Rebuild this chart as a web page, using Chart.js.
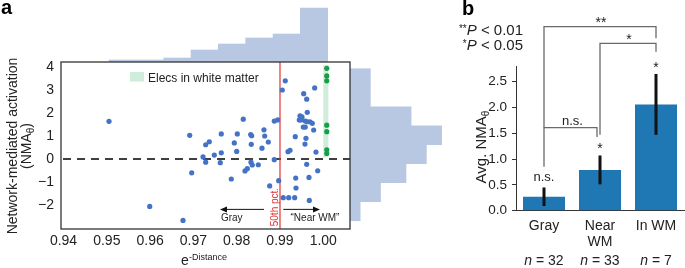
<!DOCTYPE html>
<html>
<head>
<meta charset="utf-8">
<script src="https://cdn.jsdelivr.net/npm/chart.js@4.4.1/dist/chart.umd.min.js"></script>
<style>
    html, body { margin: 0; padding: 0; background: #fff; }
    #wrap { position: relative; width: 685px; height: 268px; overflow: hidden; }
    #wrap canvas { position: absolute; left: 0; top: 0; }
</style>
</head>
<body>
<div id="wrap">
    <canvas id="histTop" width="685" height="268"></canvas>
    <canvas id="histRight" width="685" height="268"></canvas>
    <canvas id="scatter" width="685" height="268"></canvas>
    <canvas id="bars" width="685" height="268"></canvas>
</div>
<script>
// ---------- panel a : NMA vs e^-distance ----------
const grayDist = [0.95051, 0.95991, 0.96760, 0.96915, 0.96961, 0.97222, 0.97284, 0.97284, 0.97367, 0.97483,
    0.97644, 0.97644, 0.97621, 0.97875, 0.97945, 0.98000, 0.98014, 0.98152, 0.98192, 0.98245,
    0.98323, 0.98346, 0.98337, 0.98330, 0.98360, 0.98499, 0.98584, 0.98630, 0.98647, 0.98730,
    0.98762, 0.98868, 0.98947, 0.98868, 0.98970];
const grayNMA = [1.64, -2.06, -2.67, 1.03, -0.60, 0.09, -0.14, 0.62, 0.75, 0.17,
    1.09, 0.27, -0.16, -0.87, 0.70, 0.33, 1.09, 1.73, -0.52, -0.42,
    1.06, 1.01, 0.64, -0.14, -0.26, -0.25, 0.47, 1.27, 1.00, 0.74,
    -1.17, 1.65, 1.70, -0.03, -0.94];

const nearDist = [0.99053, 0.99122, 0.99076, 0.99201, 0.99339, 0.99185, 0.99231, 0.99353, 0.99363, 0.99370,
    0.99462, 0.99446, 0.99485, 0.99547, 0.99538, 0.99584, 0.99584, 0.99630, 0.99693, 0.99617,
    0.99630, 0.99600, 0.99577, 0.99617, 0.99670, 0.99677, 0.99778, 0.99801, 0.99831, 0.99871,
    0.99508, 0.99746];
const nearNMA = [3.00, 3.40, -1.68, -1.68, -1.68, 0.32, 0.38, 0.97, -0.83, -1.26,
    1.88, 1.70, 1.70, 2.84, 1.39, 1.39, 1.65, 1.62, 1.62, 2.60,
    2.03, 0.90, 0.65, -0.23, -0.80, -1.80, 1.26, 3.09, 0.30, -0.51,
    1.83, 1.55];

const wmDist = [1.0008, 1.0008, 1.0008, 1.0008, 1.0008, 1.0008, 1.0008];
const wmNMA = [3.94, 3.61, 3.40, 1.47, 1.19, 0.40, 0.24];

const distTicks = [0.94, 0.95, 0.96, 0.97, 0.98, 0.99, 1.00];
const nmaTicks = [-2, -1, 0, 1, 2, 3, 4];
const pct50 = 0.99;

// marginal histograms
const distBinCenters = [0.95367, 0.95998, 0.96629, 0.97261, 0.97892, 0.98523, 0.99155, 0.99786];
const distBinCounts = [1, 1, 2, 6, 9, 12, 14, 27];
const nmaBinCenters = [-2.270, -1.444, -0.618, 0.208, 1.034, 1.860, 2.686, 3.512];
const nmaBinCounts = [2, 6, 11, 15, 18, 12, 4, 4];

// ---------- panel b : average NMA per group ----------
const groupLabels = [['Gray'], ['Near', 'WM'], ['In WM']];
const groupN = [32, 33, 7];
const groupMean = [0.27, 0.79, 2.06];
const groupErrLow = [0.09, 0.51, 1.47];
const groupErrHigh = [0.45, 1.07, 2.65];
const groupSig = ['n.s.', '*', '*'];
const avgTicks = [0, 0.5, 1.0, 1.5, 2.0, 2.5];

const FONT = "'Liberation Sans', Arial, Helvetica, sans-serif";
Chart.defaults.font.family = FONT;
Chart.defaults.color = '#222';

const X_MIN = 0.93942, X_MAX = 1.00617;
const Y_MIN = -3.043, Y_MAX = 4.217;
const HIST = 'rgb(184,200,227)';
const DOT = 'rgb(68,114,196)';

function drawRich(ctx, parts, x, y, align)
{
    let w = 0;
    parts.forEach(p => { ctx.font = p.font; w += ctx.measureText(p.text).width; });
    let cx = align === 'center' ? x - w / 2 : (align === 'right' ? x - w : x);
    ctx.textAlign = 'left';
    ctx.textBaseline = 'alphabetic';
    parts.forEach(p => {
        ctx.font = p.font;
        ctx.fillText(p.text, cx, y + (p.dy || 0));
        cx += ctx.measureText(p.text).width;
    });
}

function arrow(ctx, x0, x1, y)
{
    const dir = Math.sign(x1 - x0);
    ctx.beginPath();
    ctx.moveTo(x0, y);
    ctx.lineTo(x1 - dir * 5, y);
    ctx.stroke();
    ctx.beginPath();
    ctx.moveTo(x1, y);
    ctx.lineTo(x1 - dir * 7, y - 3);
    ctx.lineTo(x1 - dir * 7, y + 3);
    ctx.closePath();
    ctx.fill();
}

const scatterDecor = {
    id: 'scatterDecor',
    beforeDatasetsDraw(chart) {
        const { ctx, chartArea: a, scales: { x, y } } = chart;
        ctx.save();
        // white matter band
        ctx.fillStyle = 'rgb(208,237,219)';
        const bx0 = x.getPixelForValue(1.0000), bx1 = x.getPixelForValue(1.00118);
        const by0 = y.getPixelForValue(4.09), by1 = y.getPixelForValue(0.07);
        ctx.fillRect(bx0, by0, bx1 - bx0, by1 - by0);
        // legend
        ctx.fillRect(130, 72, 14, 9.5);
        ctx.fillStyle = '#222';
        ctx.font = '12px ' + FONT;
        ctx.textBaseline = 'alphabetic';
        ctx.fillText('Elecs in white matter', 148, 81.5);
        // zero line
        ctx.strokeStyle = '#000';
        ctx.lineWidth = 1.3;
        ctx.setLineDash([8, 6]);
        const y0 = y.getPixelForValue(0);
        ctx.beginPath();
        ctx.moveTo(a.left + 2, y0);
        ctx.lineTo(a.right, y0);
        ctx.stroke();
        ctx.setLineDash([]);
        // 50th percentile
        const xp = x.getPixelForValue(pct50);
        ctx.strokeStyle = 'rgb(224,52,52)';
        ctx.lineWidth = 1.2;
        ctx.beginPath();
        ctx.moveTo(xp, a.top);
        ctx.lineTo(xp, a.bottom);
        ctx.stroke();
        ctx.restore();
    },
    afterDraw(chart) {
        const { ctx, chartArea: a, scales: { x, y } } = chart;
        ctx.save();
        // box
        ctx.strokeStyle = '#333';
        ctx.lineWidth = 1.3;
        ctx.strokeRect(a.left, a.top, a.right - a.left, a.bottom - a.top);

        // arrows and labels
        ctx.strokeStyle = '#111';
        ctx.fillStyle = '#111';
        ctx.lineWidth = 1;
        const ay = y.getPixelForValue(-2.19);
        arrow(ctx, x.getPixelForValue(0.98630), x.getPixelForValue(0.97614), ay);
        arrow(ctx, x.getPixelForValue(0.99076), x.getPixelForValue(0.99924), ay);
        ctx.font = '10px ' + FONT;
        ctx.textAlign = 'center';
        ctx.fillStyle = '#222';
        ctx.fillText('Gray', x.getPixelForValue(0.97885), ay + 11.5);
        ctx.fillText('\u201cNear WM\u201d', x.getPixelForValue(0.99808), ay + 11.5);

        // 50th pct. label
        ctx.save();
        ctx.translate(x.getPixelForValue(pct50), y.getPixelForValue(-2.09));
        ctx.rotate(-Math.PI / 2);
        ctx.fillStyle = 'rgb(224,52,52)';
        ctx.textAlign = 'center';
        ctx.fillText('50th pct.', 0, -1.5);
        ctx.restore();

        // y title
        ctx.fillStyle = '#222';
        ctx.save();
        ctx.translate(0, 146);
        ctx.rotate(-Math.PI / 2);
        drawRich(ctx, [{ text: 'Network-mediated activation', font: '14px ' + FONT }], 0, 17, 'center');
        drawRich(ctx, [
            { text: '(NMA', font: '14px ' + FONT },
            { text: '\u03b8', font: '10px ' + FONT, dy: 3 },
            { text: ')', font: '14px ' + FONT }
        ], 0, 31, 'center');
        ctx.restore();

        // x title
        drawRich(ctx, [
            { text: 'e', font: '14px ' + FONT },
            { text: '-Distance', font: '9px ' + FONT, dy: -5.5 }
        ], 204, 265, 'center');

        ctx.font = 'bold 20px ' + FONT;
        ctx.textAlign = 'left';
        ctx.fillStyle = '#000';
        ctx.fillText('a', 1, 14);
        ctx.restore();
    }
};

new Chart(document.getElementById('histTop'), {
    type: 'bar',
    data: {
        datasets: [{
            data: distBinCenters.map((c, i) => ({ x: c, y: distBinCounts[i] })),
            backgroundColor: HIST,
            borderWidth: 0,
            barPercentage: 1,
            categoryPercentage: 1
        }]
    },
    options: {
        responsive: false,
        animation: false,
        devicePixelRatio: 1,
        layout: { padding: { left: 61, top: 0, right: 335, bottom: 206 } },
        plugins: { legend: { display: false }, tooltip: { enabled: false } },
        scales: {
            x: {
                type: 'linear', display: false, min: X_MIN, max: X_MAX, offset: false,
                afterBuildTicks: s => { s.ticks = [{ value: X_MIN }, { value: X_MAX }]; }
            },
            y: { display: false, min: 0, max: 31 }
        }
    }
});

new Chart(document.getElementById('histRight'), {
    type: 'bar',
    data: {
        datasets: [{
            data: nmaBinCenters.map((c, i) => ({ x: nmaBinCounts[i], y: c })),
            backgroundColor: HIST,
            borderWidth: 0,
            barPercentage: 1,
            categoryPercentage: 1
        }]
    },
    options: {
        indexAxis: 'y',
        responsive: false,
        animation: false,
        devicePixelRatio: 1,
        layout: { padding: { left: 350, top: 62, right: 224, bottom: 39 } },
        plugins: { legend: { display: false }, tooltip: { enabled: false } },
        scales: {
            y: {
                type: 'linear', display: false, min: Y_MIN, max: Y_MAX, offset: false,
                afterBuildTicks: s => { s.ticks = [{ value: Y_MIN }, { value: Y_MAX }]; }
            },
            x: { type: 'linear', display: false, min: 0, max: 21.8 }
        }
    }
});

new Chart(document.getElementById('scatter'), {
    type: 'scatter',
    data: {
        datasets: [
            {
                label: 'Gray',
                data: grayDist.map((d, i) => ({ x: d, y: grayNMA[i] })),
                backgroundColor: DOT, pointRadius: 2.6, borderWidth: 0
            },
            {
                label: 'Near WM',
                data: nearDist.map((d, i) => ({ x: d, y: nearNMA[i] })),
                backgroundColor: DOT, pointRadius: 2.6, borderWidth: 0
            },
            {
                label: 'In WM',
                data: wmDist.map((d, i) => ({ x: d, y: wmNMA[i] })),
                backgroundColor: 'rgb(22,158,72)', pointRadius: 2.6, borderWidth: 0
            }
        ]
    },
    options: {
        responsive: false,
        animation: false,
        devicePixelRatio: 1,
        layout: { padding: { left: 0, top: 62, right: 335, bottom: 0 } },
        plugins: { legend: { display: false }, tooltip: { enabled: false } },
        scales: {
            x: {
                type: 'linear', min: X_MIN, max: X_MAX,
                afterBuildTicks: s => { s.ticks = distTicks.map(v => ({ value: v })); },
                afterFit: s => { s.height = 39; },
                grid: { display: false, drawTicks: false },
                border: { display: false },
                ticks: {
                    padding: 4, maxRotation: 0, autoSkip: false,
                    font: { size: 14 }, color: '#222',
                    callback: v => v.toFixed(2)
                }
            },
            y: {
                type: 'linear', min: Y_MIN, max: Y_MAX,
                afterBuildTicks: s => { s.ticks = nmaTicks.map(v => ({ value: v })); },
                afterFit: s => { s.width = 61; },
                grid: { display: false, drawTicks: false },
                border: { display: false },
                ticks: {
                    padding: 7, autoSkip: false,
                    font: { size: 14 }, color: '#222',
                    callback: v => (v < 0 ? '\u2212' + Math.abs(v) : String(v))
                }
            }
        }
    },
    plugins: [scatterDecor]
});

// ---------- panel b ----------
const barsDecor = {
    id: 'barsDecor',
    afterDatasetsDraw(chart) {
        const { ctx, scales: { x, y } } = chart;
        ctx.save();
        ctx.strokeStyle = '#111';
        ctx.lineWidth = 3;
        groupMean.forEach((m, i) => {
            const px = x.getPixelForValue(i);
            ctx.beginPath();
            ctx.moveTo(px, y.getPixelForValue(groupErrLow[i]));
            ctx.lineTo(px, y.getPixelForValue(groupErrHigh[i]));
            ctx.stroke();
        });
        ctx.restore();
    },
    afterDraw(chart) {
        const { ctx, scales: { x, y } } = chart;
        ctx.save();
        ctx.fillStyle = '#222';
        ctx.textAlign = 'center';
        ctx.textBaseline = 'alphabetic';

        // significance over each bar
        groupSig.forEach((s, i) => {
            const px = x.getPixelForValue(i);
            const top = y.getPixelForValue(groupErrHigh[i]);
            if (s === 'n.s.') {
                ctx.font = '13px ' + FONT;
                ctx.fillText(s, px, top - 6.5);
            } else {
                ctx.font = '14px ' + FONT;
                ctx.fillText(s, px, top - 2);
            }
        });

        // brackets
        const brackets = [
            { i: 0, j: 2, top: 3.566, lo: 1.61, ro: 3.34, text: '**', off: 0 },
            { i: 1, j: 2, top: 3.24, lo: 1.47, ro: 3.08, text: '*', off: 0 },
            { i: 0, j: 1, top: 1.61, lo: 0.85, ro: 1.43, text: 'n.s.', off: -3 }
        ];
        ctx.strokeStyle = '#6a6a6a';
        ctx.lineWidth = 1.3;
        brackets.forEach(b => {
            const x0 = x.getPixelForValue(b.i);
            const x1 = x.getPixelForValue(b.j) + b.off;
            const yt = y.getPixelForValue(b.top);
            ctx.beginPath();
            ctx.moveTo(x0, y.getPixelForValue(b.lo));
            ctx.lineTo(x0, yt);
            ctx.lineTo(x1, yt);
            ctx.lineTo(x1, y.getPixelForValue(b.ro));
            ctx.stroke();
            if (b.text === 'n.s.') {
                ctx.font = '13px ' + FONT;
                ctx.fillText(b.text, (x0 + x1) / 2 + 2, yt - 3);
            } else {
                ctx.font = '14px ' + FONT;
                ctx.fillText(b.text, (x0 + x1) / 2 + 1, yt + 0.5);
            }
        });

        // n = ...
        groupN.forEach((n, i) => {
            drawRich(ctx, [
                { text: 'n', font: 'italic 14px ' + FONT },
                { text: ' = ' + n, font: '14px ' + FONT }
            ], x.getPixelForValue(i), 265, 'center');
        });

        // p-value key
        drawRich(ctx, [
            { text: '**', font: '10px ' + FONT, dy: -3 },
            { text: 'P', font: 'italic 15px ' + FONT },
            { text: ' < 0.01', font: '15px ' + FONT }
        ], 523, 35, 'right');
        drawRich(ctx, [
            { text: '*', font: '10px ' + FONT, dy: -3 },
            { text: 'P', font: 'italic 15px ' + FONT },
            { text: ' < 0.05', font: '15px ' + FONT }
        ], 523, 50, 'right');

        // y title
        ctx.save();
        ctx.translate(0, 147);
        ctx.rotate(-Math.PI / 2);
        drawRich(ctx, [
            { text: 'Avg. NMA', font: '15px ' + FONT },
            { text: '\u03b8', font: '10px ' + FONT, dy: 3 }
        ], 0, 486, 'center');
        ctx.restore();

        ctx.font = 'bold 20px ' + FONT;
        ctx.textAlign = 'left';
        ctx.fillStyle = '#000';
        ctx.fillText('b', 462, 15);
        ctx.restore();
    }
};

new Chart(document.getElementById('bars'), {
    type: 'bar',
    data: {
        labels: groupLabels,
        datasets: [{
            data: groupMean,
            backgroundColor: 'rgb(31,119,180)',
            borderWidth: 0,
            barPercentage: 0.75,
            categoryPercentage: 1
        }]
    },
    options: {
        responsive: false,
        animation: false,
        devicePixelRatio: 1,
        layout: { padding: { left: 470, top: 66.7, right: 1, bottom: 0 } },
        plugins: { legend: { display: false }, tooltip: { enabled: false } },
        scales: {
            x: {
                afterFit: s => { s.height = 57.3; },
                grid: { display: false, drawTicks: false },
                border: { display: true, color: '#333', width: 1 },
                ticks: { padding: 8, maxRotation: 0, font: { size: 14, lineHeight: 1.12 }, color: '#222' }
            },
            y: {
                min: 0, max: 2.79,
                afterBuildTicks: s => { s.ticks = avgTicks.map(v => ({ value: v })); },
                afterFit: s => { s.width = 46; },
                grid: { display: true, drawOnChartArea: false, drawTicks: true, tickLength: 4, color: '#333' },
                border: { display: true, color: '#333', width: 1 },
                ticks: { padding: 5, font: { size: 13.5 }, color: '#222', callback: v => v.toFixed(1) }
            }
        }
    },
    plugins: [barsDecor]
});
</script>
</body>
</html>
